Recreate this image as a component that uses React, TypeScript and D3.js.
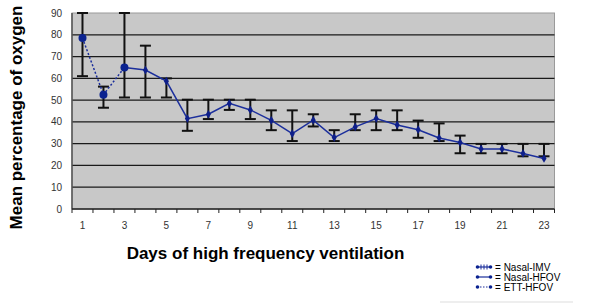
import React from "react";
import * as d3 from "d3";

const days = d3.range(1, 24);
const xTickLabels = [1, 3, 5, 7, 9, 11, 13, 15, 17, 19, 21, 23];
const yTicks = [0, 10, 20, 30, 40, 50, 60, 70, 80, 90];
const means = [78.5, 52.5, 65, 63.8, 58.7, 41.5, 43.5, 48.5, 45.5, 40.7, 34.6, 40.8, 32.8, 37.7, 41.5, 38.6, 36.4, 32.6, 30.5, 27.6, 27.6, 25.5, 23.2];
const upper = [90, 56.2, 90, 75, 60, 50.2, 50.2, 50.2, 50.2, 45.3, 45.3, 43.5, 36.2, 43.5, 45.3, 45.3, 40.6, 39.3, 33.7, 29.9, 29.9, 29.9, 29.9];
const lower = [61, 46.5, 51.2, 51.2, 51.2, 35.9, 41.3, 45.5, 41.3, 36.2, 31.2, 37.9, 31.2, 36.2, 36.2, 36.2, 32.7, 31.2, 25.6, 25.6, 25.6, 24.2, 24.2];
const ettDays = [1, 2, 3];
const legendLabels = ["Nasal-IMV", "Nasal-HFOV", "ETT-HFOV"];

const W = 600, H = 304;
const L = 72, R = 554.5, T = 13, B = 209;
const BLUE = "#1c2f9c";

export default function App() {
  const x = d3.scaleBand<number>().domain(days).range([L, R]).padding(0);
  const cx = (d: number) => (x(d) as number) + x.bandwidth() / 2;
  const y = d3.scaleLinear().domain([0, 90]).range([B, T]);
  const pts = days.map((d, i) => ({ d, v: means[i], hi: upper[i], lo: lower[i] }));
  const line = d3.line<{ d: number; v: number }>().x(p => cx(p.d)).y(p => y(p.v));
  const ettPts = pts.filter(p => ettDays.includes(p.d));
  const hfovPts = pts.filter(p => p.d >= 3);
  const diamond = d3.symbol().type(d3.symbolDiamond).size(22)() as string;
  const font = "Arial, 'Liberation Sans', sans-serif";
  return (
    <svg width={W} height={H} style={{ position: "absolute", left: 0, top: 0 }} fontFamily={font}>
      <rect x={0} y={0} width={W} height={H} fill="#fff" />
      <rect x={L} y={T} width={R - L} height={B - T} fill="#c8c8c8" stroke="#9a9a9a" strokeWidth={1} />
      {yTicks.filter(t => t > 0 && t < 90).map(t => (
        <line key={t} x1={L} x2={R} y1={y(t)} y2={y(t)} stroke="#1a1a1a" strokeWidth={1.3} />
      ))}
      <line x1={L} x2={L} y1={T} y2={B} stroke="#555" strokeWidth={1.5} />
      <line x1={L} x2={R} y1={B} y2={B} stroke="#222" strokeWidth={1.5} />
      {d3.range(0, 24).map(i => {
        const xx = L + i * x.bandwidth();
        return <line key={i} x1={xx} x2={xx} y1={B} y2={B + 4} stroke="#222" strokeWidth={1} />;
      })}
      {yTicks.map(t => (
        <text key={t} x={62} y={y(t)} dy="0.35em" textAnchor="end" fontSize={10} fill="#333">{t}</text>
      ))}
      {xTickLabels.map(t => (
        <text key={t} x={cx(t)} y={229} textAnchor="middle" fontSize={10} fill="#333">{t}</text>
      ))}
      {pts.map(p => (
        <g key={p.d} stroke="#111" strokeWidth={2}>
          <line x1={cx(p.d)} x2={cx(p.d)} y1={y(p.hi)} y2={y(p.lo)} />
          <line x1={cx(p.d) - 5.5} x2={cx(p.d) + 5.5} y1={y(p.hi)} y2={y(p.hi)} />
          <line x1={cx(p.d) - 5.5} x2={cx(p.d) + 5.5} y1={y(p.lo)} y2={y(p.lo)} />
        </g>
      ))}
      <path d={line(ettPts) as string} fill="none" stroke={BLUE} strokeWidth={1.5} strokeDasharray="2,2" />
      <path d={line(hfovPts) as string} fill="none" stroke={BLUE} strokeWidth={1.5} />
      {hfovPts.filter(p => p.d > 3).map(p => (
        <path key={p.d} d={diamond} transform={`translate(${cx(p.d)},${y(p.v)})`} fill="#0e1f8a" />
      ))}
      {ettPts.map(p => (
        <circle key={p.d} cx={cx(p.d)} cy={y(p.v)} r={4} fill="#0b2390" />
      ))}
      <text transform={`translate(21.5,117.5) rotate(-90)`} textAnchor="middle" fontSize={17} fontWeight="bold" fill="#000">Mean percentage of oxygen</text>
      <text x={265.5} y={259} textAnchor="middle" fontSize={17} fontWeight="bold" fill="#000">Days of high frequency ventilation</text>
      {legendLabels.map((lab, i) => {
        const ly = 267 + i * 10;
        return (
          <g key={lab}>
            <line x1={477} x2={491} y1={ly} y2={ly} stroke={BLUE} strokeWidth={1.2} strokeDasharray={i === 2 ? "1.5,1.5" : undefined} />
            {i === 0 && [481, 484, 487].map(tx => (
              <line key={tx} x1={tx} x2={tx} y1={ly - 2.5} y2={ly + 2.5} stroke={BLUE} strokeWidth={1} />
            ))}
            <circle cx={477.5} cy={ly} r={1.8} fill="#0b2390" />
            <circle cx={490.5} cy={ly} r={1.8} fill="#0b2390" />
            <text x={495} y={ly} dy="0.35em" fontSize={10} fill="#000">= {lab}</text>
          </g>
        );
      })}
      <line x1={440} x2={573} y1={302} y2={302} stroke="#ddd" strokeWidth={1} />
    </svg>
  );
}
